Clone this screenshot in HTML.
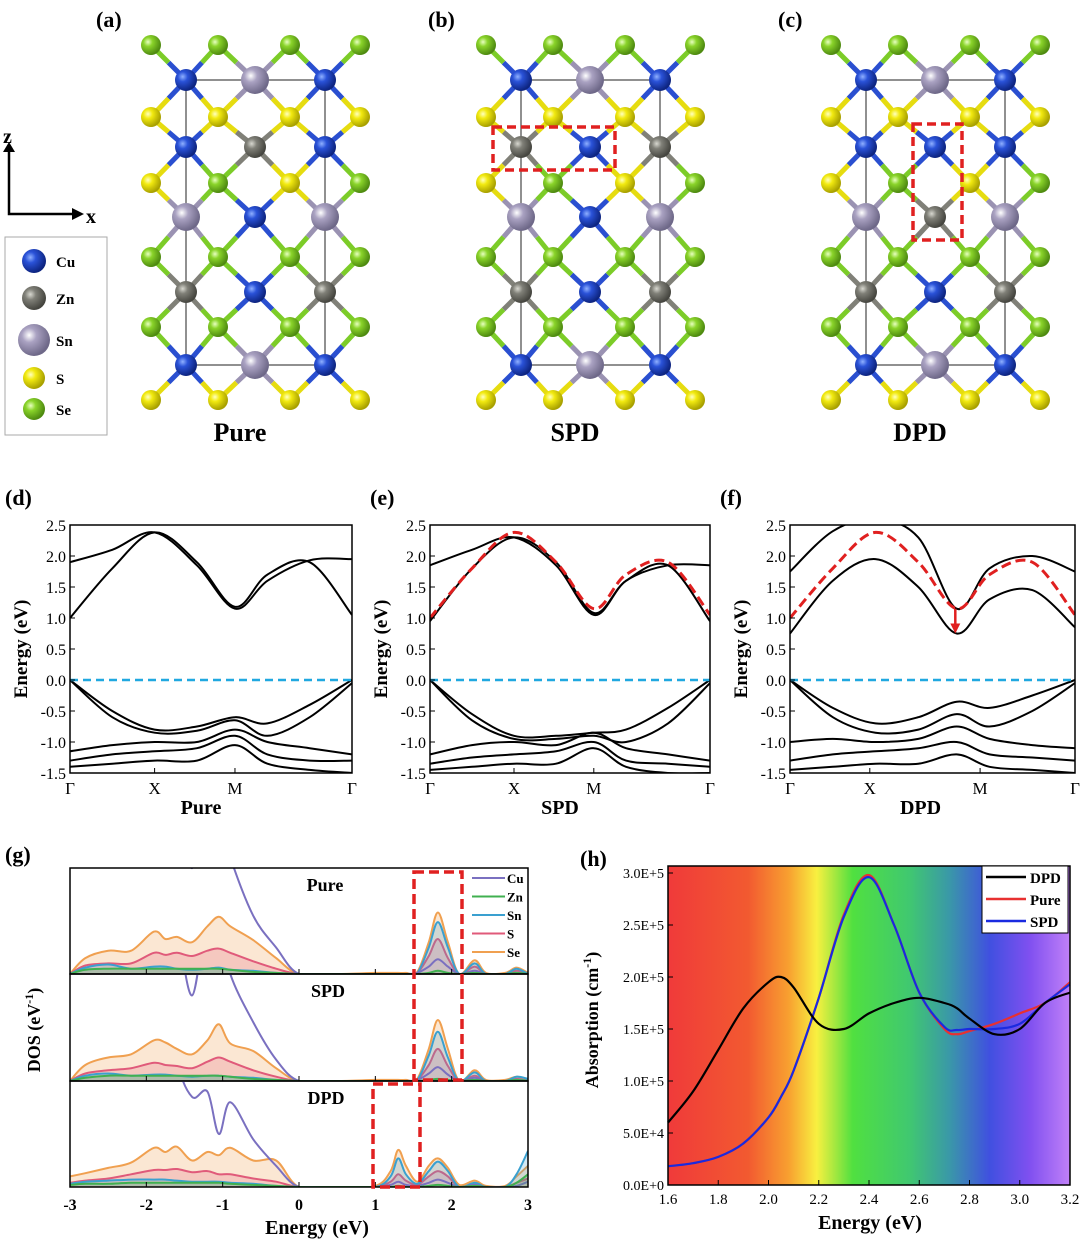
<!DOCTYPE html>
<html><head><meta charset="utf-8"><style>
body{margin:0;background:#fff}
svg text{font-family:"Liberation Serif",serif;font-weight:bold}
</style></head><body>
<svg id="s" width="1080" height="1239" viewBox="0 0 1080 1239" xmlns="http://www.w3.org/2000/svg">
<defs>
<radialGradient id="gCu" cx="35%" cy="35%" r="65%"><stop offset="0" stop-color="#8fb0ff"/><stop offset="0.35" stop-color="#2a52d8"/><stop offset="1" stop-color="#0d2480"/></radialGradient>
<radialGradient id="gZn" cx="35%" cy="35%" r="65%"><stop offset="0" stop-color="#d8d8d0"/><stop offset="0.35" stop-color="#808078"/><stop offset="1" stop-color="#45453f"/></radialGradient>
<radialGradient id="gSn" cx="35%" cy="35%" r="65%"><stop offset="0" stop-color="#ffffff"/><stop offset="0.35" stop-color="#aaa2c2"/><stop offset="1" stop-color="#6e6888"/></radialGradient>
<radialGradient id="gS" cx="35%" cy="35%" r="65%"><stop offset="0" stop-color="#ffffc0"/><stop offset="0.35" stop-color="#f2ea10"/><stop offset="1" stop-color="#a8a000"/></radialGradient>
<radialGradient id="gSe" cx="35%" cy="35%" r="65%"><stop offset="0" stop-color="#e8ffc0"/><stop offset="0.35" stop-color="#8ad42a"/><stop offset="1" stop-color="#4e8a10"/></radialGradient>
<linearGradient id="rainbow" x1="0" x2="1" y1="0" y2="0">
<stop offset="0" stop-color="#f03a3a"/><stop offset="0.2" stop-color="#f25a30"/><stop offset="0.3" stop-color="#f8a030"/><stop offset="0.37" stop-color="#f8f040"/><stop offset="0.46" stop-color="#50e040"/><stop offset="0.6" stop-color="#40c870"/><stop offset="0.7" stop-color="#3a98a8"/><stop offset="0.8" stop-color="#4050e0"/><stop offset="0.9" stop-color="#8050f0"/><stop offset="1" stop-color="#c080f8"/></linearGradient>
</defs>
<g id="topgrp"></g><g id="bands"></g><g id="dos"></g><g id="abs"></g>
</svg>
<script>
// ---------- data ----------
const anionRowsY=[45,117,183,257,327,400];
const metalRowsY=[80,147,217,292,365];
const anionTypes=[["Se","Se","Se","Se"],["S","S","S","S"],["S","Se","S","Se"],["Se","Se","Se","Se"],["Se","Se","Se","Se"],["S","S","S","S"]];
const metalPure=[["Cu","Sn","Cu"],["Cu","Zn","Cu"],["Sn","Cu","Sn"],["Zn","Cu","Zn"],["Cu","Sn","Cu"]];
const metalSPD=[["Cu","Sn","Cu"],["Zn","Cu","Zn"],["Sn","Cu","Sn"],["Zn","Cu","Zn"],["Cu","Sn","Cu"]];
const metalDPD=[["Cu","Sn","Cu"],["Cu","Cu","Cu"],["Sn","Zn","Sn"],["Zn","Cu","Zn"],["Cu","Sn","Cu"]];

const kPts=[0,0.15,0.3,0.45,0.585,0.7,0.85,1];
const kTicksDE=[0,0.3,0.585,1];
const kTicksF=[0,0.28,0.667,1];
const kTickLabels=["Γ","X","M","Γ"];
const eTicks=[2.5,2.0,1.5,1.0,0.5,0.0,-0.5,-1.0,-1.5];
const pureBands=[[1.9,2.1,2.38,1.85,1.15,1.6,1.93,1.95],[1.0,1.8,2.38,1.9,1.18,1.7,1.9,1.05],
[0,-0.5,-0.8,-0.75,-0.6,-0.7,-0.4,0],[0,-0.6,-0.85,-0.82,-0.65,-0.9,-0.6,-0.05],
[-1.15,-1.05,-1.0,-1.0,-0.8,-1.0,-1.1,-1.2],[-1.3,-1.2,-1.15,-1.1,-0.9,-1.2,-1.3,-1.3],[-1.4,-1.35,-1.3,-1.3,-1.05,-1.35,-1.45,-1.5]];
const spdBands=[[1.85,2.1,2.3,1.85,1.05,1.6,1.85,1.85],[0.95,1.8,2.3,1.9,1.08,1.6,1.85,0.95],
[0,-0.55,-0.9,-0.9,-0.85,-0.8,-0.45,0],[0,-0.65,-0.95,-0.95,-0.9,-1.0,-0.7,-0.05],
[-1.2,-1.05,-1.0,-1.05,-0.85,-1.1,-1.2,-1.3],[-1.35,-1.25,-1.2,-1.15,-1.0,-1.3,-1.35,-1.4],[-1.45,-1.4,-1.35,-1.35,-1.1,-1.4,-1.5,-1.5]];
const dpdBands=[[1.75,2.4,2.6,2.3,1.15,1.8,2.0,1.75],[0.75,1.6,1.95,1.5,0.75,1.3,1.45,0.85],
[0,-0.45,-0.7,-0.6,-0.35,-0.45,-0.25,0],[0,-0.6,-0.85,-0.8,-0.55,-0.75,-0.5,-0.05],
[-1.0,-0.95,-1.0,-0.95,-0.75,-0.95,-1.05,-1.1],[-1.3,-1.2,-1.15,-1.1,-1.0,-1.2,-1.25,-1.3],[-1.45,-1.4,-1.35,-1.35,-1.2,-1.4,-1.45,-1.5]];
const refCB=[1.0,1.8,2.38,1.9,1.15,1.7,1.9,1.05];

const dosE=[-3,-2.8,-2.5,-2.2,-1.9,-1.75,-1.6,-1.4,-1.2,-1.05,-0.9,-0.6,-0.3,0,0.5,1.0,1.2,1.3,1.4,1.55,1.7,1.82,1.95,2.1,2.3,2.45,2.7,2.85,3];
const pureSe=[0,0.15,0.22,0.22,0.4,0.33,0.35,0.3,0.45,0.54,0.45,0.32,0.15,0,0,0.01,0.01,0.01,0.01,0.02,0.3,0.58,0.3,0,0.13,0.01,0.01,0.06,0.01];
const pureS=[0,0.08,0.1,0.1,0.2,0.18,0.2,0.17,0.22,0.24,0.2,0.12,0.05,0,0,0,0,0,0,0.01,0.17,0.33,0.15,0,0.07,0,0,0.03,0];
const pureSn=[0,0.06,0.09,0.05,0.07,0.07,0.05,0.04,0.05,0.06,0.04,0.03,0.01,0,0,0,0,0,0,0.01,0.25,0.49,0.25,0,0.1,0,0,0.05,0];
const pureCu=[1.8,2,2.5,2.4,2.2,2,1.5,1.0,1.6,1.5,1.1,0.55,0.25,0,0,0,0,0,0,0.01,0.07,0.14,0.07,0,0.03,0,0,0.01,0];
const pureZn=[0,0.04,0.05,0.05,0.05,0.05,0.05,0.05,0.05,0.05,0.04,0.02,0.01,0,0,0,0,0,0,0,0.01,0.03,0.01,0,0.01,0,0,0.01,0];
const spdSe=[0,0.15,0.22,0.25,0.38,0.36,0.3,0.25,0.38,0.53,0.35,0.28,0.12,0,0,0.01,0.01,0.01,0.01,0.02,0.3,0.57,0.3,0,0.1,0.01,0.01,0.04,0.01];
const spdS=[0,0.07,0.1,0.12,0.17,0.15,0.14,0.12,0.18,0.22,0.18,0.1,0.04,0,0,0,0,0,0,0.01,0.15,0.3,0.14,0,0.05,0,0,0.02,0];
const spdSn=[0,0.05,0.07,0.05,0.06,0.06,0.05,0.04,0.05,0.05,0.04,0.03,0.01,0,0,0,0,0,0,0.01,0.24,0.46,0.22,0,0.08,0,0,0.04,0.02];
const spdCu=[2,2,2.4,2.4,2.2,2,1.5,0.8,1.6,1.5,1.0,0.55,0.2,0,0,0,0,0,0,0.01,0.07,0.13,0.06,0,0.03,0,0,0.01,0];
const spdZn=[0,0.03,0.05,0.05,0.05,0.05,0.05,0.05,0.05,0.05,0.04,0.02,0.01,0,0,0,0,0,0,0,0.01,0.02,0.01,0,0.01,0,0,0.01,0];
const dpdSe=[0.1,0.13,0.18,0.23,0.37,0.33,0.38,0.25,0.33,0.3,0.37,0.25,0.25,0,0,0.01,0.15,0.35,0.2,0.05,0.2,0.27,0.18,0.02,0.06,0.01,0.01,0.1,0.2];
const dpdS=[0.04,0.06,0.08,0.12,0.16,0.16,0.17,0.14,0.15,0.12,0.12,0.08,0.05,0,0,0,0.05,0.12,0.06,0.02,0.1,0.15,0.1,0,0.03,0,0,0.04,0.08];
const dpdSn=[0.03,0.05,0.06,0.07,0.07,0.07,0.06,0.05,0.05,0.05,0.04,0.03,0.01,0,0,0,0.1,0.27,0.12,0.03,0.15,0.24,0.15,0,0.04,0,0,0.12,0.34];
const dpdCu=[2,2,2.4,2.4,2.2,2,1.2,0.85,0.9,0.5,0.8,0.45,0.2,0,0,0,0.02,0.05,0.02,0.01,0.04,0.07,0.04,0,0.02,0,0,0.01,0.05];
const dpdZn=[0.02,0.03,0.03,0.04,0.04,0.04,0.04,0.04,0.04,0.04,0.03,0.02,0.01,0,0,0,0,0.01,0,0,0.01,0.02,0.01,0,0.01,0,0,0.04,0.12];
const dosNames=["Cu","Zn","Sn","S","Se"];
const dosColors={Cu:"#7a70c0",Zn:"#40b050",Sn:"#3aa0d0",S:"#e05a7a",Se:"#f0a050"};

const absE=[1.6,1.7,1.8,1.9,2.0,2.05,2.1,2.2,2.3,2.4,2.5,2.6,2.7,2.75,2.8,2.9,3.0,3.1,3.2];
const absDPD=[6,9,13,17,19.5,20,19,15.5,15,16.5,17.5,18,17.5,17,16,14.5,15,17.5,18.5];
const absPure=[1.8,2.1,2.7,4,6.5,8.5,11,18,26,29.8,25,18.5,15,14.5,14.8,15.5,16.5,17.5,19.5];
const absSPD=[1.8,2.1,2.7,4,6.5,8.5,11,18,25.8,29.6,25,18.5,15.2,14.9,15,15,15.5,17.5,19.3];
const absXTicks=[1.6,1.8,2.0,2.2,2.4,2.6,2.8,3.0,3.2];
const absYTicks=[0,5,10,15,20,25,30];
const absYLabels=["0.0E+0","5.0E+4","1.0E+5","1.5E+5","2.0E+5","2.5E+5","3.0E+5"];

// ---------- helpers ----------
const NS="http://www.w3.org/2000/svg";
function mk(tag,attrs,parent,txt){const e=document.createElementNS(NS,tag);for(const k in attrs)e.setAttribute(k,attrs[k]);if(txt!==undefined)e.textContent=txt;parent.appendChild(e);return e;}
function smooth(p){let d="M"+p[0][0].toFixed(1)+","+p[0][1].toFixed(1);for(let i=0;i<p.length-1;i++){const p0=p[i-1]||p[i],p1=p[i],p2=p[i+1],p3=p[i+2]||p2;const c1=[p1[0]+(p2[0]-p0[0])/6,p1[1]+(p2[1]-p0[1])/6],c2=[p2[0]-(p3[0]-p1[0])/6,p2[1]-(p3[1]-p1[1])/6];d+="C"+c1.map(v=>v.toFixed(1))+" "+c2.map(v=>v.toFixed(1))+" "+p2.map(v=>v.toFixed(1));}return d;}

// ---------- crystal panels ----------
const topG=document.getElementById('topgrp');
const anionX=[151,218,290,360],metalX=[186,255,325];
const atomCol={Cu:"#2a4fd0",Zn:"#808078",Sn:"#9a92b2",S:"#e6dc10",Se:"#7ccc28"};
const rad={Cu:11,Zn:11,Sn:14,S:10,Se:10};
function crystal(dx,metals,label,lx){
  const g=mk('g',{},topG);
  metalRowsY.forEach((my,ri)=>metalX.forEach((mx,ci)=>{
    for(const up of [ri,ri+1]){for(const ai of [ci,ci+1]){
      const ax=anionX[ai]+dx,ay=anionRowsY[up],x=mx+dx,y=my;const midx=(x+ax)/2,midy=(y+ay)/2;
      mk('line',{x1:x,y1:y,x2:midx,y2:midy,stroke:atomCol[metals[ri][ci]],'stroke-width':5},g);
      mk('line',{x1:midx,y1:midy,x2:ax,y2:ay,stroke:atomCol[anionTypes[up][ai]],'stroke-width':5},g);
    }}
  }));
  mk('rect',{x:186+dx,y:80,width:139,height:285,fill:'none',stroke:'#222','stroke-width':1},g);
  anionRowsY.forEach((y,ri)=>anionX.forEach((x,ci)=>{const t=anionTypes[ri][ci];mk('circle',{cx:x+dx,cy:y,r:rad[t],fill:'url(#g'+t+')'},g);}));
  metalRowsY.forEach((y,ri)=>metalX.forEach((x,ci)=>{const t=metals[ri][ci];mk('circle',{cx:x+dx,cy:y,r:rad[t],fill:'url(#g'+t+')'},g);}));
  mk('text',{x:240+dx,y:441,'font-size':26,'text-anchor':'middle',},topG,label);
  mk('text',{x:lx,y:27,'font-size':22,},topG,'('+'abc'[['Pure','SPD','DPD'].indexOf(label)]+')');
}
crystal(0,metalPure,'Pure',96);
crystal(335,metalSPD,'SPD',428);
crystal(680,metalDPD,'DPD',778);
mk('rect',{x:493,y:127,width:122,height:43,fill:'none',stroke:'#e02020','stroke-width':3.5,'stroke-dasharray':'9 5',},topG);
mk('rect',{x:913,y:124,width:49,height:116,fill:'none',stroke:'#e02020','stroke-width':3.5,'stroke-dasharray':'9 5',},topG);
mk('path',{d:'M9,148 L9,214 L76,214',fill:'none',stroke:'#000','stroke-width':2.5,},topG);
mk('path',{d:'M3,152 L9,142 L15,152 Z M72,208 L84,214 L72,220Z',fill:'#000'},topG);
mk('text',{x:3,y:143,'font-size':20},topG,'z');
mk('text',{x:86,y:223,'font-size':20},topG,'x');
const lg=mk('g',{},topG);
mk('rect',{x:5,y:237,width:102,height:198,fill:'#fff',stroke:'#aaa','stroke-width':1},lg);
[["Cu",261,12],["Zn",298,12],["Sn",340,16],["S",378,11],["Se",409,11]].forEach(([t,y,r])=>{mk('circle',{cx:34,cy:y,r:r,fill:'url(#g'+t+')'},lg);mk('text',{x:56,y:y+6,'font-size':15},lg,t);});

// ---------- band panels ----------
const bg=document.getElementById('bands');
function bandPanel(x0,x1,letter,lx,bands,kt,name,ref,arrow){
  const y0=525,y1=773,yE=e=>680-e*62,xK=k=>x0+k*(x1-x0);
  const g=mk('g',{},bg);
  const cid='clip'+name;const cp=mk('clipPath',{id:cid},g);mk('rect',{x:x0,y:y0,width:x1-x0,height:y1-y0},cp);
  const pg=mk('g',{'clip-path':'url(#'+cid+')'},g);
  bands.forEach((b,i)=>{const p=mk('path',{d:smooth(b.map((e,j)=>[xK(kPts[j]),yE(e)])),fill:'none',stroke:'#000','stroke-width':2},pg);});
  if(ref){const p=mk('path',{d:smooth(ref.map((e,j)=>[xK(kPts[j]),yE(e)])),fill:'none',stroke:'#e02020','stroke-width':3,'stroke-dasharray':'10 5'},pg);}
  mk('line',{x1:x0,x2:x1,y1:yE(0),y2:yE(0),stroke:'#20a8e0','stroke-width':2.5,'stroke-dasharray':'8 5',},g);
  if(arrow){const ax=xK(arrow[0]);mk('line',{x1:ax,x2:ax,y1:yE(arrow[1]),y2:yE(arrow[2])-8,stroke:'#e02020','stroke-width':2.5},g);mk('path',{d:`M${ax-5},${yE(arrow[2])-10} L${ax},${yE(arrow[2])} L${ax+5},${yE(arrow[2])-10}Z`,fill:'#e02020'},g);}
  mk('rect',{x:x0,y:y0,width:x1-x0,height:y1-y0,fill:'none',stroke:'#000','stroke-width':1.5},g);
  eTicks.forEach(e=>{mk('line',{x1:x0,x2:x0+5,y1:yE(e),y2:yE(e),stroke:'#000'},g);mk('text',{x:x0-4,y:yE(e)+6,'font-size':16,'text-anchor':'end',style:'font-weight:normal'},g,e.toFixed(1));});
  kt.forEach((k,i)=>{mk('line',{x1:xK(k),x2:xK(k),y1:y1,y2:y1-5,stroke:'#000'},g);mk('text',{x:xK(k),y:y1+21,'font-size':17,'text-anchor':'middle',style:'font-weight:normal'},g,kTickLabels[i]);});
  mk('text',{x:(x0+x1)/2-(name==='DPD'?12:10),y:y1+41,'font-size':20,'text-anchor':'middle'},g,name);
  mk('text',{transform:`translate(${x0-43},${(y0+y1)/2}) rotate(-90)`,'font-size':19,'text-anchor':'middle',},g,'Energy (eV)');
  mk('text',{x:lx,y:505,'font-size':22},g,'('+letter+')');
}
bandPanel(70,352,'d',5,pureBands,kTicksDE,'Pure',null,null);
bandPanel(430,710,'e',370,spdBands,kTicksDE,'SPD',refCB,null);
bandPanel(790,1075,'f',720,dpdBands,kTicksF,'DPD',refCB,[0.58,1.15,0.75]);

// ---------- DOS ----------
const dg=document.getElementById('dos');
const dx0=70,dx1=528,xD=e=>dx0+(e+3)/6*(dx1-dx0);
const subs=[[868,974,'Pure',[pureCu,pureZn,pureSn,pureS,pureSe]],[974,1081,'SPD',[spdCu,spdZn,spdSn,spdS,spdSe]],[1081,1187,'DPD',[dpdCu,dpdZn,dpdSn,dpdS,dpdSe]]];
subs.forEach(([t,b,name,ser],si)=>{
  const g=mk('g',{},dg);
  const cid='dclip'+si;const cp=mk('clipPath',{id:cid},g);mk('rect',{x:dx0,y:t,width:dx1-dx0,height:b-t},cp);
  const pg=mk('g',{'clip-path':'url(#'+cid+')'},g);
  const h=b-t;
  [4,3,2,0,1].forEach(i=>{const nm=dosNames[i];const pts=ser[i].map((v,j)=>[xD(dosE[j]),b-v*h]);const d=smooth(pts);
    if(i!==0){const a=mk('path',{d:d+`L${xD(3)},${b} L${xD(-3)},${b}Z`,fill:dosColors[nm],'fill-opacity':nm==='Se'?0.25:0.22},pg);}
    const l=mk('path',{d:d,fill:'none',stroke:dosColors[nm],'stroke-width':2},pg);});
  mk('rect',{x:dx0,y:t,width:dx1-dx0,height:h,fill:'none',stroke:'#000','stroke-width':1.5},g);
  [-2,-1,0,1,2].forEach(e=>mk('line',{x1:xD(e),x2:xD(e),y1:b,y2:b-5,stroke:'#000'},g));
  mk('text',{x:[325,328,326][si],y:t+23,'font-size':18,'text-anchor':'middle'},g,name);
});
[-3,-2,-1,0,1,2,3].forEach(e=>mk('text',{x:xD(e),y:1210,'font-size':16,'text-anchor':'middle'},dg,String(e)));
mk('text',{x:317,y:1234,'font-size':20,'text-anchor':'middle',},dg,'Energy (eV)');
const dt=mk('text',{transform:'translate(40,1030) rotate(-90)','font-size':18,'text-anchor':'middle',},dg,'DOS (eV');
mk('tspan',{dy:-7,'font-size':12},dt,'-1');mk('tspan',{dy:7},dt,')');
mk('text',{x:5,y:862,'font-size':22},dg,'(g)');
mk('rect',{x:414,y:872,width:48,height:208,fill:'none',stroke:'#e02020','stroke-width':3.5,'stroke-dasharray':'10 5',},dg);
mk('rect',{x:373,y:1084,width:47,height:103,fill:'none',stroke:'#e02020','stroke-width':3.5,'stroke-dasharray':'10 5',},dg);
dosNames.forEach((n,i)=>{const y=878+i*18.5;const g=mk('g',{},dg);mk('line',{x1:472,x2:505,y1:y,y2:y,stroke:dosColors[n],'stroke-width':2},g);mk('text',{x:507,y:y+5,'font-size':13},g,n);});

// ---------- absorption ----------
const ag=document.getElementById('abs');
const ax0=668,ax1=1070,ay0=873,ay1=1185;
const xA=e=>ax0+(e-1.6)/1.6*(ax1-ax0),yA=v=>ay1-v/30*(ay1-ay0);
mk('rect',{x:ax0,y:866,width:ax1-ax0,height:ay1-866,fill:'url(#rainbow)',},ag);
[[absPure,'#e83030','Pure'],[absSPD,'#1a2ae0','SPD'],[absDPD,'#000','DPD']].forEach(([s,c,n])=>{const p=mk('path',{d:smooth(s.map((v,j)=>[xA(absE[j]),yA(v)])),fill:'none',stroke:c,'stroke-width':2.2},ag);});
mk('rect',{x:ax0,y:866,width:ax1-ax0,height:ay1-866,fill:'none',stroke:'#000','stroke-width':1.5},ag);
absYTicks.forEach((v,i)=>{mk('line',{x1:ax0,x2:ax0+5,y1:yA(v),y2:yA(v),stroke:'#000'},ag);mk('text',{x:ax0-4,y:yA(v)+5,'font-size':14,'text-anchor':'end',style:'font-weight:normal'},ag,absYLabels[i]);});
absXTicks.forEach(e=>{mk('line',{x1:xA(e),x2:xA(e),y1:ay1,y2:ay1-5,stroke:'#000'},ag);mk('text',{x:xA(e),y:ay1+19,'font-size':15,'text-anchor':'middle',style:'font-weight:normal'},ag,e.toFixed(1));});
mk('text',{x:870,y:1229,'font-size':20,'text-anchor':'middle',},ag,'Energy (eV)');
const at=mk('text',{transform:'translate(598,1020) rotate(-90)','font-size':18,'text-anchor':'middle',},ag,'Absorption (cm');
mk('tspan',{dy:-7,'font-size':12},at,'-1');mk('tspan',{dy:7},at,')');
mk('text',{x:580,y:866,'font-size':22},ag,'(h)');
const al=mk('g',{},ag);
mk('rect',{x:982,y:866,width:86,height:67,fill:'#fff',stroke:'#000','stroke-width':1},al);
[['DPD','#000'],['Pure','#e83030'],['SPD','#1a2ae0']].forEach(([n,c],i)=>{const y=877+i*22;mk('line',{x1:986,x2:1026,y1:y,y2:y,stroke:c,'stroke-width':2.5},al);mk('text',{x:1030,y:y+6,'font-size':15},al,n);});
</script>
</body></html>
